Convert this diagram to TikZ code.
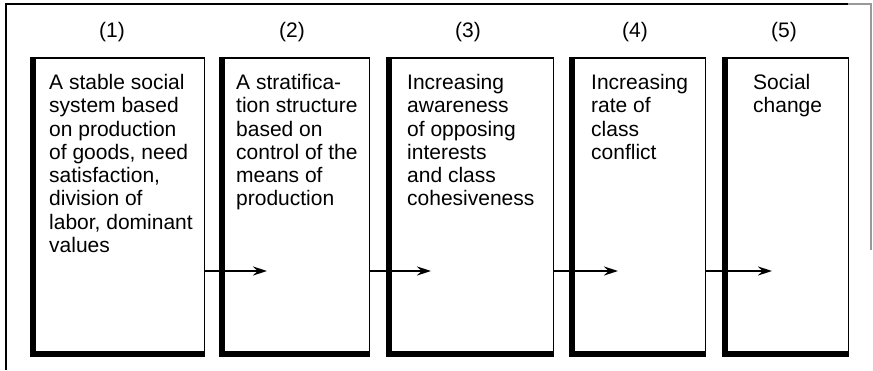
\documentclass[tikz,border=0pt]{standalone}
\usepackage{fontspec}
\setmainfont{Liberation Sans}
\usetikzlibrary{arrows.meta,calc}
\begin{document}
\begin{tikzpicture}[x=1pt,y=1pt,
  box/.style={draw=none,inner sep=0pt,minimum height=298pt,anchor=north west},
  thinedge/.style={line width=1.4pt},
  thickedge/.style={line width=5pt},
  txt/.style={anchor=north west,inner sep=0pt,align=left,font=\fontsize{21}{23.3}\selectfont},
  num/.style={inner sep=0pt,font=\fontsize{21}{24}\selectfont},
  arr/.style={line width=1.5pt,-{Stealth[length=14pt,width=9pt]}},
  frame/.style={line width=1.3pt}]
\useasboundingbox (0,0) rectangle (873,-370);
% outer frame
\coordinate (fbl) at (6,-370);
\coordinate (ftl) at (6,-4);
\coordinate (ftm) at (848,-4);
\coordinate (ftr) at (871,-4);
\coordinate (fbr) at (871,-250);
\draw[frame] (fbl) -- (ftl) -- (ftm);
\draw[frame,black!40] (ftm) -- (ftr) -- (fbr);
% boxes
\node[box,minimum width=173pt] (b1) at (31,-58) {};
\node[box,minimum width=149pt] (b2) at (220,-58) {};
\node[box,minimum width=166pt] (b3) at (387,-58) {};
\node[box,minimum width=135pt] (b4) at (570,-58) {};
\node[box,minimum width=125pt] (b5) at (723,-58) {};
\foreach \b in {b1,b2,b3,b4,b5}{
  \draw[thinedge] (\b.south west) rectangle (\b.north east);
  \draw[thickedge] ([xshift=2.5pt]\b.north west) -- ([xshift=2.5pt,yshift=2.5pt]\b.south west) -- ([yshift=2.5pt]\b.south east);
}
% numbers
\node[num] (n1) at (112,-32) {(1)};
\node[num] (n2) at (292,-32) {(2)};
\node[num] (n3) at (468,-32) {(3)};
\node[num] (n4) at (635,-32) {(4)};
\node[num] (n5) at (784,-32) {(5)};
% texts
\node[txt] (t1) at (49,-74) {A stable social\\system based\\on production\\of goods, need\\satisfaction,\\division of\\labor, dominant\\values};
\node[txt] (t2) at (236,-74) {A stratifica-\\tion structure\\based on\\control of the\\means of\\production};
\node[txt] (t3) at (407,-74) {Increasing\\awareness\\of opposing\\interests\\and class\\cohesiveness};
\node[txt] (t4) at (591,-74) {Increasing\\rate of\\class\\conflict};
\node[txt] (t5) at (753,-74) {Social\\change};
% arrows
\coordinate (a2) at (267,-271);
\coordinate (a3) at (431,-271);
\coordinate (a4) at (618,-271);
\coordinate (a5) at (772,-271);
\draw[arr] (b1.east |- a2) -- (a2);
\draw[arr] (b2.east |- a3) -- (a3);
\draw[arr] (b3.east |- a4) -- (a4);
\draw[arr] (b4.east |- a5) -- (a5);
\end{tikzpicture}
\end{document}
